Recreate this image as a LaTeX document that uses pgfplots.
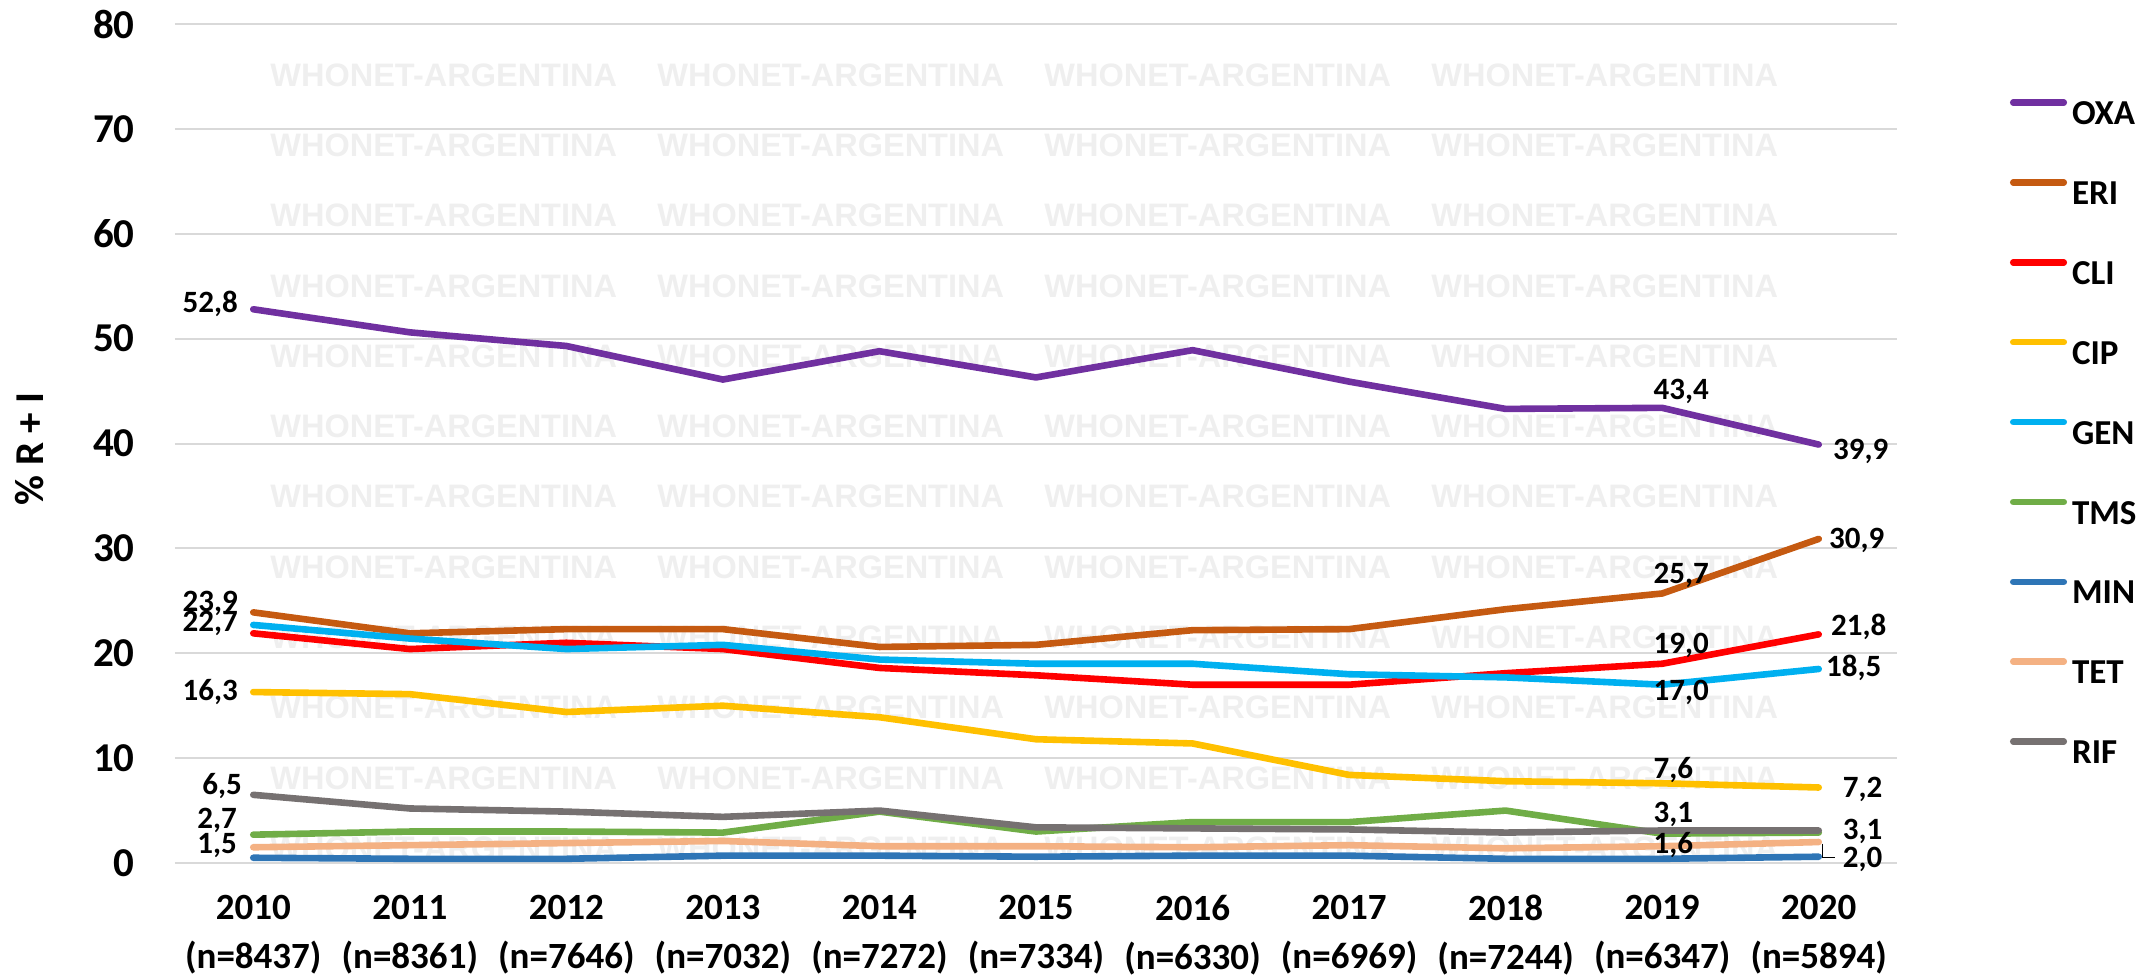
\documentclass[border=0pt]{standalone}
\usepackage{fontspec}
\setmainfont{Carlito}
\newfontfamily\wmfont{Liberation Sans}
\usepackage{pgfplots}
\usepackage{pgfplotstable}
\pgfplotsset{compat=1.18}
\definecolor{cOXA}{HTML}{7030A0}
\definecolor{cERI}{HTML}{C55A11}
\definecolor{cCLI}{HTML}{FF0000}
\definecolor{cCIP}{HTML}{FFC000}
\definecolor{cGEN}{HTML}{00B0F0}
\definecolor{cTMS}{HTML}{70AD47}
\definecolor{cMIN}{HTML}{2E75B6}
\definecolor{cTET}{HTML}{F4B183}
\definecolor{cRIF}{HTML}{767171}
\definecolor{wm}{RGB}{239,239,239}
\definecolor{gridc}{RGB}{217,217,217}
\tikzset{lbl/.style={font=\fontsize{15.5}{15.5}\selectfont\bfseries, inner sep=0pt}}

\pgfplotstableread{
x OXA ERI CLI CIP GEN TMS MIN TET RIF
0 52.8 23.9 21.9 16.3 22.7 2.7 0.5 1.5 6.5
1 50.6 21.9 20.4 16.1 21.4 3.0 0.4 1.7 5.2
2 49.3 22.3 21.0 14.4 20.4 3.0 0.4 1.9 4.9
3 46.1 22.3 20.4 15.0 20.8 2.9 0.7 2.1 4.4
4 48.8 20.6 18.6 13.9 19.4 4.9 0.7 1.6 5.0
5 46.3 20.8 17.9 11.8 19.0 3.0 0.6 1.6 3.4
6 48.9 22.2 17.0 11.4 19.0 3.9 0.7 1.5 3.3
7 45.9 22.3 17.0 8.4 18.0 3.9 0.7 1.7 3.2
8 43.3 24.2 18.1 7.8 17.7 5.0 0.4 1.4 2.9
9 43.4 25.7 19.0 7.6 17.0 2.8 0.4 1.6 3.1
10 39.9 30.9 21.8 7.2 18.5 2.9 0.6 2.0 3.1
}\data

\begin{document}
\begin{tikzpicture}
\path[use as bounding box] (-87.5pt,-56.5pt) rectangle (989.5pt,431.5pt);
\foreach \c in {47.5,241,434.5,628}{
  \foreach \r in {0,...,11}{
    \node[anchor=west, inner sep=0pt, text=wm, font=\wmfont\bfseries\fontsize{16.25}{16.25}\selectfont]
      at ({\c*1pt},{(394-35.15*\r)*1pt}) {WHONET-ARGENTINA};
  }
}
\begin{axis}[
  at={(0,0)}, anchor=south west,
  scale only axis, width=861pt, height=419.5pt,
  xmin=-0.5, xmax=10.5, ymin=0, ymax=80,
  axis line style={draw=none},
  major tick length=0pt,
  ymajorgrids, grid style={gridc, line width=1pt},
  ytick={0,10,...,80}, yticklabels={0,10,20,30,40,50,60,70,80},
  yticklabel style={font=\fontsize{20.5}{20.5}\selectfont\bfseries, inner sep=0pt, xshift=-20pt},
  xtick={0,...,10},
  xticklabels={{2010\\(n=8437)},{2011\\(n=8361)},{2012\\(n=7646)},{2013\\(n=7032)},{2014\\(n=7272)},{2015\\(n=7334)},{2016\\(n=6330)},{2017\\(n=6969)},{2018\\(n=7244)},{2019\\(n=6347)},{2020\\(n=5894)}},
  xticklabel style={align=center, font=\fontsize{18.5}{24.5}\selectfont\bfseries, inner sep=0pt, yshift=-16pt},
  ylabel={\% R + I},
  ylabel style={at={(axis description cs:-0.0842,0.4934)}, anchor=center, font=\fontsize{20.5}{20.5}\selectfont\bfseries, inner sep=0pt},
  legend style={draw=none, fill=none, at={(axis description cs:1.0656,0.9101)}, anchor=north west,
    inner sep=0pt, outer sep=0pt, row sep=27.2pt, column sep=2.5pt,
    font=\fontsize{17.5}{17.5}\selectfont\bfseries,
    nodes={inner sep=0pt, text height=11pt, text depth=0pt}},
  legend cell align=left,
  legend image code/.code={\draw[#1, line width=3.25pt, line cap=round] (1.6pt,5.6pt) -- (26.9pt,5.6pt);},
  clip=false,
  every axis plot/.append style={line width=3.3pt, line join=round, line cap=round, mark=none},
]
\addplot[cOXA] table[x=x,y=OXA] {\data}; \addlegendentry{OXA}
\addplot[cERI] table[x=x,y=ERI] {\data}; \addlegendentry{ERI}
\addplot[cCLI] table[x=x,y=CLI] {\data}; \addlegendentry{CLI}
\addplot[cCIP] table[x=x,y=CIP] {\data}; \addlegendentry{CIP}
\addplot[cGEN] table[x=x,y=GEN] {\data}; \addlegendentry{GEN}
\addplot[cTMS] table[x=x,y=TMS] {\data}; \addlegendentry{TMS}
\addplot[cMIN] table[x=x,y=MIN] {\data}; \addlegendentry{MIN}
\addplot[cTET] table[x=x,y=TET] {\data}; \addlegendentry{TET}
\addplot[cRIF] table[x=x,y=RIF] {\data}; \addlegendentry{RIF}
% 2010 labels
\node[lbl, anchor=east, xshift=-7.5pt] at (axis cs:0,53.3) {52,8};
\node[lbl, anchor=east, xshift=-7.5pt] at (axis cs:0,24.74) {23,9};
\node[lbl, anchor=east, xshift=-7.5pt] at (axis cs:0,22.82) {22,7};
\node[lbl, anchor=east, xshift=-7.5pt] at (axis cs:0,16.3) {16,3};
\node[lbl, anchor=east, xshift=-5.5pt] at (axis cs:0,7.36) {6,5};
\node[lbl, anchor=east, xshift=-8pt] at (axis cs:0,4.10) {2,7};
\node[lbl, anchor=east, xshift=-8pt] at (axis cs:0,1.67) {1,5};
% 2019 labels
\node[lbl, anchor=west, xshift=-4.5pt] at (axis cs:9,45.0) {43,4};
\node[lbl, anchor=west, xshift=-4.5pt] at (axis cs:9,27.46) {25,7};
\node[lbl, anchor=west, xshift=-4.5pt] at (axis cs:9,20.78) {19,0};
\node[lbl, anchor=west, xshift=-4.5pt] at (axis cs:9,16.24) {17,0};
\node[lbl, anchor=west, xshift=-4.5pt] at (axis cs:9,8.82) {7,6};
\node[lbl, anchor=west, xshift=-4.5pt] at (axis cs:9,4.67) {3,1};
\node[lbl, anchor=west, xshift=-4.5pt] at (axis cs:9,1.67) {1,6};
% 2020 labels
\node[lbl, anchor=east, xshift=35pt] at (axis cs:10,39.2) {39,9};
\node[lbl, anchor=east, xshift=33pt] at (axis cs:10,30.8) {30,9};
\node[lbl, anchor=east, xshift=34pt] at (axis cs:10,22.53) {21,8};
\node[lbl, anchor=east, xshift=31.5pt] at (axis cs:10,18.57) {18,5};
\node[lbl, anchor=east, xshift=32pt] at (axis cs:10,7.06) {7,2};
\node[lbl, anchor=east, xshift=32pt] at (axis cs:10,2.98) {3,1};
\node[lbl, anchor=east, xshift=32pt] at (axis cs:10,0.35) {2,0};
\draw[black, line width=0.6pt] ([xshift=2pt]axis cs:10,1.85) -- ([xshift=2pt]axis cs:10,0.55) -- ([xshift=8pt]axis cs:10,0.55);
\end{axis}
\end{tikzpicture}
\end{document}
